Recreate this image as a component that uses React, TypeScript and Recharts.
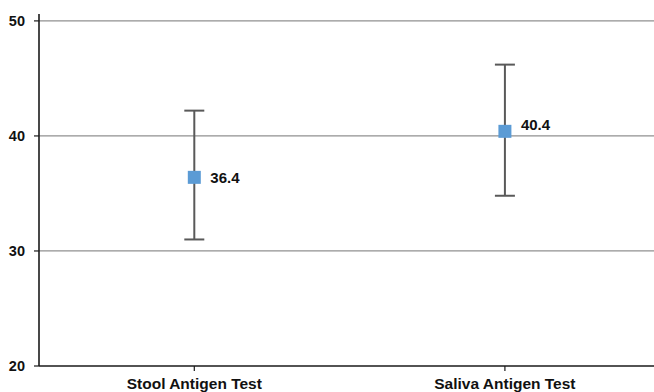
import React from "react";
import { ComposedChart, Scatter, XAxis, YAxis, CartesianGrid, ErrorBar } from "recharts";

const categories = ["Stool Antigen Test", "Saliva Antigen Test"];
const means = [36.4, 40.4];
const lowerBounds = [31.0, 34.8];
const upperBounds = [42.2, 46.2];
const yTicks = [20, 30, 40, 50];
const gridValues = [30, 40, 50];

const data = categories.map((c, i) => ({
  name: c,
  pos: i + 0.5,
  mean: means[i],
  err: [means[i] - lowerBounds[i], upperBounds[i] - means[i]],
}));

const FONT = "'Liberation Sans', Arial, sans-serif";

const Marker = (props: any) => {
  const { cx, cy, payload, index } = props;
  const s = 13;
  const dy = index === 1 ? -7 : 0;
  return (
    <g>
      <rect x={cx - s / 2} y={cy - s / 2} width={s} height={s} fill="#5B9BD5" />
      <text
        x={cx + 16}
        y={cy + dy}
        dy="0.35em"
        fontFamily={FONT}
        fontWeight="bold"
        fontSize={15}
        fill="#111"
      >
        {payload.mean.toFixed(1)}
      </text>
    </g>
  );
};

export default function App() {
  return (
    <div style={{ position: "absolute", left: 0, top: 0, background: "#fff" }}>
      <ComposedChart
        width={654}
        height={392}
        data={data}
        margin={{ top: 14, right: 0, bottom: 0, left: 0 }}
      >
        <CartesianGrid
          horizontal
          vertical={false}
          horizontalValues={gridValues}
          stroke="#909090"
          strokeWidth={1.2}
        />
        <XAxis
          dataKey="pos"
          type="number"
          domain={[0, 1.98]}
          ticks={[0.5, 1.5]}
          tickFormatter={(v: number) => categories[Math.round(v - 0.5)]}
          height={26}
          tickSize={5}
          tickMargin={7}
          axisLine={{ stroke: "#1a1a1a", strokeWidth: 1.6 }}
          tickLine={{ stroke: "#1a1a1a", strokeWidth: 1.2 }}
          tick={{ fontFamily: FONT, fontWeight: "bold", fontSize: 15.5, fill: "#111" }}
          interval={0}
        />
        <YAxis
          type="number"
          domain={[20, 50.6]}
          ticks={yTicks}
          width={39}
          tickSize={5}
          tickMargin={9}
          allowDataOverflow
          axisLine={{ stroke: "#1a1a1a", strokeWidth: 1.6 }}
          tickLine={{ stroke: "#1a1a1a", strokeWidth: 1.2 }}
          tick={{ fontFamily: FONT, fontWeight: "bold", fontSize: 14.5, fill: "#111" }}
        />
        <Scatter dataKey="mean" shape={<Marker />} isAnimationActive={false}>
          <ErrorBar dataKey="err" direction="y" width={10} stroke="#595959" strokeWidth={2} />
        </Scatter>
      </ComposedChart>
    </div>
  );
}
